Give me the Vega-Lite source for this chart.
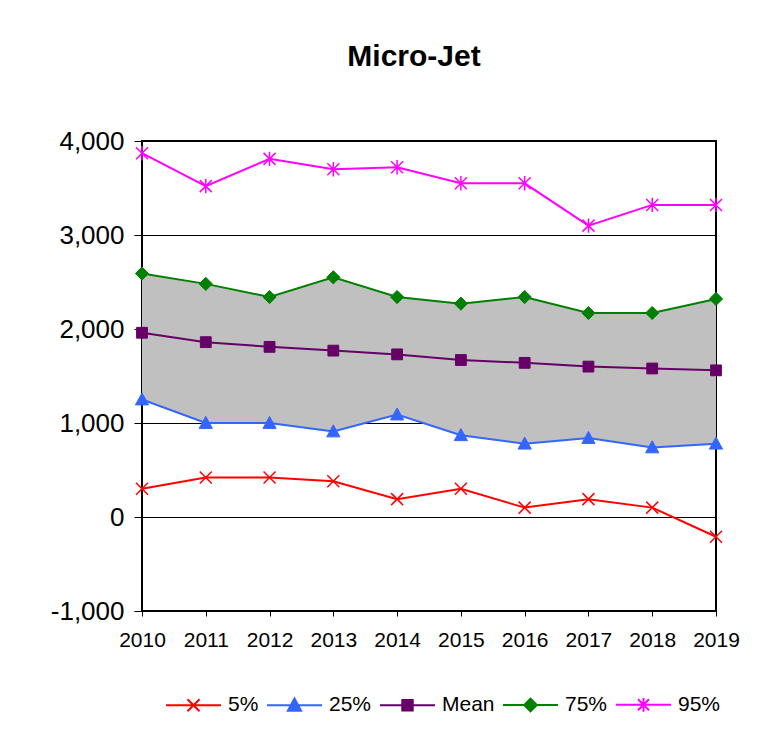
{
  "$schema": "https://vega.github.io/schema/vega-lite/v6.json",
  "width": 574,
  "height": 470,
  "autosize": {"type": "none"},
  "padding": {"left": 142, "top": 141, "right": 59, "bottom": 133},
  "background": "white",
  "title": {
    "text": "Micro-Jet",
    "font": "Liberation Sans",
    "fontSize": 30,
    "fontWeight": "bold",
    "color": "#000",
    "anchor": "middle",
    "frame": "group",
    "dx": -15,
    "offset": 56
  },
  "config": {
    "view": {"stroke": "#000", "strokeWidth": 2},
    "axis": {
      "title": null,
      "labelFont": "Liberation Sans",
      "labelFontSize": 21,
      "labelColor": "#000",
      "tickColor": "#000",
      "tickWidth": 1,
      "domain": false,
      "gridColor": "#000",
      "gridWidth": 1,
      "gridOpacity": 1,
      "labelFlush": false,
      "labelOverlap": false
    },
    "axisX": {"grid": false, "tickSize": 5, "labelPadding": 13, "labelFontSize": 21},
    "axisY": {"grid": true, "tickSize": 8, "labelPadding": 10, "labelFontSize": 26}
  },
  "data": {
    "values": [
      {"year": 2010, "series": "5%", "value": 300},
      {"year": 2011, "series": "5%", "value": 420},
      {"year": 2012, "series": "5%", "value": 420},
      {"year": 2013, "series": "5%", "value": 380},
      {"year": 2014, "series": "5%", "value": 190},
      {"year": 2015, "series": "5%", "value": 300},
      {"year": 2016, "series": "5%", "value": 100},
      {"year": 2017, "series": "5%", "value": 190},
      {"year": 2018, "series": "5%", "value": 100},
      {"year": 2019, "series": "5%", "value": -210},
      {"year": 2010, "series": "25%", "value": 1250},
      {"year": 2011, "series": "25%", "value": 1000},
      {"year": 2012, "series": "25%", "value": 1000},
      {"year": 2013, "series": "25%", "value": 910},
      {"year": 2014, "series": "25%", "value": 1090},
      {"year": 2015, "series": "25%", "value": 870},
      {"year": 2016, "series": "25%", "value": 780},
      {"year": 2017, "series": "25%", "value": 840},
      {"year": 2018, "series": "25%", "value": 740},
      {"year": 2019, "series": "25%", "value": 780},
      {"year": 2010, "series": "Mean", "value": 1960},
      {"year": 2011, "series": "Mean", "value": 1860},
      {"year": 2012, "series": "Mean", "value": 1810},
      {"year": 2013, "series": "Mean", "value": 1770},
      {"year": 2014, "series": "Mean", "value": 1730},
      {"year": 2015, "series": "Mean", "value": 1670},
      {"year": 2016, "series": "Mean", "value": 1640},
      {"year": 2017, "series": "Mean", "value": 1600},
      {"year": 2018, "series": "Mean", "value": 1580},
      {"year": 2019, "series": "Mean", "value": 1560},
      {"year": 2010, "series": "75%", "value": 2590},
      {"year": 2011, "series": "75%", "value": 2480},
      {"year": 2012, "series": "75%", "value": 2340},
      {"year": 2013, "series": "75%", "value": 2550},
      {"year": 2014, "series": "75%", "value": 2340},
      {"year": 2015, "series": "75%", "value": 2270},
      {"year": 2016, "series": "75%", "value": 2340},
      {"year": 2017, "series": "75%", "value": 2170},
      {"year": 2018, "series": "75%", "value": 2170},
      {"year": 2019, "series": "75%", "value": 2320},
      {"year": 2010, "series": "95%", "value": 3870},
      {"year": 2011, "series": "95%", "value": 3520},
      {"year": 2012, "series": "95%", "value": 3810},
      {"year": 2013, "series": "95%", "value": 3700},
      {"year": 2014, "series": "95%", "value": 3720},
      {"year": 2015, "series": "95%", "value": 3550},
      {"year": 2016, "series": "95%", "value": 3550},
      {"year": 2017, "series": "95%", "value": 3100},
      {"year": 2018, "series": "95%", "value": 3320},
      {"year": 2019, "series": "95%", "value": 3320}
    ]
  },
  "encoding": {
    "x": {"field": "year", "type": "quantitative", "scale": {"domain": [2010, 2019], "nice": false, "zero": false}, "axis": {"values": [2010, 2011, 2012, 2013, 2014, 2015, 2016, 2017, 2018, 2019], "format": "d", "labelFlush": false, "labelOverlap": false}},
    "y": {"field": "value", "type": "quantitative", "scale": {"domain": [-1000, 4000], "nice": false}, "axis": {"values": [-1000, 0, 1000, 2000, 3000, 4000], "labelExpr": "replace(format(datum.value, ','), '\u2212', '-')"}}
  },
  "layer": [
    {
      "transform": [{"pivot": "series", "value": "value", "groupby": ["year"]}],
      "mark": {"type": "area", "color": "#C0C0C0", "opacity": 1},
      "encoding": {
        "y": {"field": "25%", "type": "quantitative", "scale": {"domain": [-1000, 4000], "nice": false}, "axis": {"values": [-1000, 0, 1000, 2000, 3000, 4000], "labelExpr": "replace(format(datum.value, ','), '\u2212', '-')"}},
        "y2": {"field": "75%"}
      }
    },
    {
      "mark": {"type": "line", "strokeWidth": 2},
      "encoding": {
        "color": {
          "field": "series",
          "type": "nominal",
          "sort": ["5%", "25%", "Mean", "75%", "95%"],
          "scale": {"domain": ["5%", "25%", "Mean", "75%", "95%"], "range": ["#FF0000", "#3366FF", "#660066", "#008000", "#FF00FF"]},
          "legend": {
            "title": null,
            "orient": "none",
            "direction": "horizontal",
            "legendX": 23,
            "legendY": 535,
            "padding": 0,
            "symbolSize": 3025,
            "symbolStrokeWidth": 2,
            "labelFont": "Liberation Sans",
            "labelFontSize": 21,
            "labelColor": "#000",
            "labelOffset": 6,
            "columnPadding": 4,
            "encode": {
              "symbols": {
                "update": {
                  "shape": {"signal": "datum.value === '5%' ? 'M-1,0H1M-0.22,-0.22L0.22,0.22M-0.22,0.22L0.22,-0.22' : datum.value === '25%' ? 'M-1,0H1M0,-0.25L0.24,0.2L-0.24,0.2Z' : datum.value === 'Mean' ? 'M-1,0H1M-0.19,-0.19H0.19V0.19H-0.19Z' : datum.value === '75%' ? 'M-1,0H1M0,-0.23L0.23,0L0,0.23L-0.23,0Z' : 'M-1,0H1M-0.2,-0.2L0.2,0.2M-0.2,0.2L0.2,-0.2M0,-0.25V0.25'"},
                  "fill": {"signal": "scale('color', datum.value)"},
                  "stroke": {"signal": "scale('color', datum.value)"},
                  "strokeWidth": {"value": 2},
                  "opacity": {"value": 1}
                }
              }
            }
          }
        }
      }
    },
    {
      "transform": [{"filter": "datum.series === '5%'"}],
      "mark": {"type": "point", "shape": "M-1,-1L1,1M-1,1L1,-1", "filled": false, "stroke": "#FF0000", "opacity": 1, "size": 144, "strokeWidth": 1.5}
    },
    {
      "transform": [{"filter": "datum.series === '25%'"}],
      "mark": {"type": "point", "shape": "M0,-1.1L1.1,0.9L-1.1,0.9Z", "filled": true, "fill": "#3366FF", "stroke": "#3366FF", "opacity": 1, "size": 144, "strokeWidth": 1}
    },
    {
      "transform": [{"filter": "datum.series === 'Mean'"}],
      "mark": {"type": "point", "shape": "M-0.9,-0.9H0.9V0.9H-0.9Z", "filled": true, "fill": "#660066", "stroke": "#660066", "opacity": 1, "size": 144, "strokeWidth": 1}
    },
    {
      "transform": [{"filter": "datum.series === '75%'"}],
      "mark": {"type": "point", "shape": "M0,-1.1L1.1,0L0,1.1L-1.1,0Z", "filled": true, "fill": "#008000", "stroke": "#008000", "opacity": 1, "size": 144, "strokeWidth": 1}
    },
    {
      "transform": [{"filter": "datum.series === '95%'"}],
      "mark": {"type": "point", "shape": "M-1,-1L1,1M-1,1L1,-1M0,-1.2V1.2", "filled": false, "stroke": "#FF00FF", "opacity": 1, "size": 144, "strokeWidth": 1.5}
    }
  ]
}
